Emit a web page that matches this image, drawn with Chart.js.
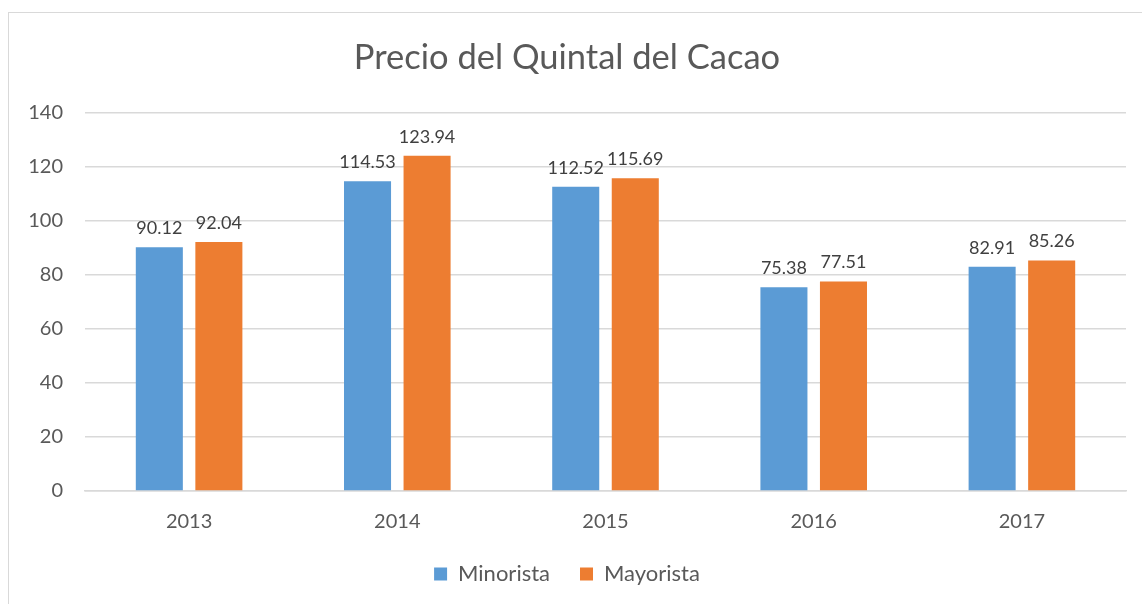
<!DOCTYPE html>
<html>
<head>
<meta charset="utf-8">
<script src="https://cdn.jsdelivr.net/npm/chart.js@4"></script>
<style>
  html, body { margin: 0; padding: 0; background: #fff; }
  #wrap { position: relative; width: 1142px; height: 604px; overflow: hidden; }
  #frame { position: absolute; left: 8px; top: 12px; width: 1200px; height: 700px; border: 1.5px solid #d9d9d9; box-sizing: border-box; }
  canvas { position: absolute; left: 0; top: 0; }
</style>
</head>
<body>
<div id="wrap">
  <div id="frame"></div>
  <canvas id="cacao-Chart" width="1142" height="604"></canvas>
</div>
<script>
const labels = ["2013", "2014", "2015", "2016", "2017"];
const minorista = [90.12, 114.53, 112.52, 75.38, 82.91];
const mayorista = [92.04, 123.94, 115.69, 77.51, 85.26];

const fuente = "Lato, 'Open Sans', sans-serif";

// etiquetas de datos encima de cada barra
const etiquetas = {
  id: "etiquetas",
  afterDatasetsDraw(chart) {
    const ctx = chart.ctx;
    ctx.save();
    ctx.font = "18px " + fuente;
    ctx.fillStyle = "#404040";
    ctx.textAlign = "center";
    ctx.textBaseline = "bottom";
    chart.data.datasets.forEach((ds, i) => {
      chart.getDatasetMeta(i).data.forEach((bar, j) => {
        ctx.fillText(ds.data[j].toFixed(2), bar.x, bar.y - 10);
      });
    });
    ctx.restore();
  }
};

const data = {
  labels: labels,
  datasets: [
    {
      label: "Minorista",
      backgroundColor: "#5B9BD5",
      data: minorista,
    },
    {
      label: "Mayorista",
      backgroundColor: "#ED7D31",
      data: mayorista,
    },
  ],
};

const config = {
  type: "bar",
  data: data,
  plugins: [etiquetas],
  options: {
    responsive: false,
    animation: false,
    categoryPercentage: 0.572,
    barPercentage: 0.79,
    layout: { padding: { left: 8, right: 16, top: 0, bottom: 9 } },
    scales: {
      x: {
        grid: { display: false, drawTicks: false },
        border: { color: "#d9d9d9", width: 1.5 },
        ticks: { color: "#595959", font: { family: fuente, size: 20 }, padding: 19 },
        afterFit(scale) { scale.height = 42; }
      },
      y: {
        min: 0,
        max: 140,
        grid: { color: "#d9d9d9", lineWidth: 1.5, drawTicks: false },
        border: { display: false },
        ticks: { stepSize: 20, color: "#595959", font: { family: fuente, size: 20 }, padding: 22 },
        afterFit(scale) { scale.width = 77; }
      }
    },
    plugins: {
      title: {
        display: true,
        text: "Precio del Quintal del Cacao",
        color: "#595959",
        font: { family: fuente, size: 34.5, weight: "normal" },
        padding: { top: 37, bottom: 34 }
      },
      legend: {
        position: "bottom",
        labels: {
          color: "#595959",
          font: { family: fuente, size: 22 },
          boxWidth: 13,
          boxHeight: 13,
          padding: 30
        }
      },
      tooltip: { enabled: false }
    }
  }
};

let myChart = new Chart(document.getElementById("cacao-Chart"), config);
</script>
</body>
</html>
